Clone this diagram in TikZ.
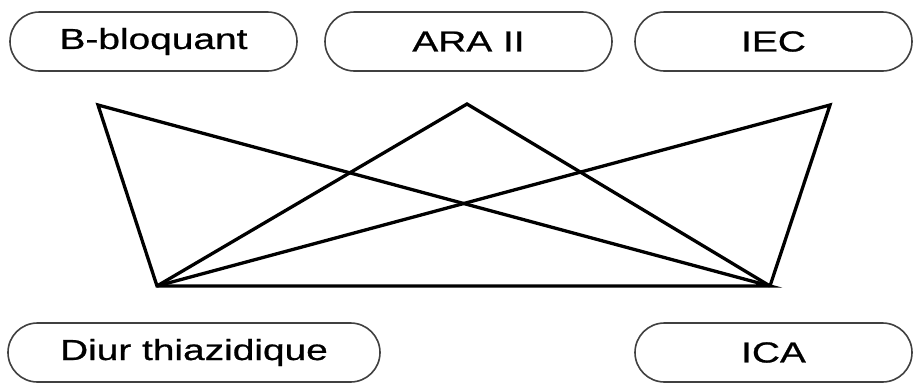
\documentclass[tikz,border=0pt]{standalone}
\usepackage{fontspec}
\usepackage{graphicx}
\setmainfont{Liberation Sans}
\newfontfamily\labelfont{Liberation Sans}[FakeBold=0.7]
\tikzset{
  pill/.style={draw=black!75, line width=1.6pt, rounded corners=29.5pt,
    minimum height=59pt, inner sep=0pt, fill=white,
    font=\labelfont\fontsize{29}{32}\selectfont, text=black},
  edge/.style={line width=3.3pt, black, line join=miter},
}
\newcommand{\wide}[1]{\scalebox{1.34}[1]{#1}}
\begin{document}
\begin{tikzpicture}[x=1pt,y=-1pt]
\useasboundingbox (0,0) rectangle (913,383);
\node[pill, minimum width=287pt] (bb) at (153.5,41.5) {\wide{B-bloquant}};
\node[pill, minimum width=287pt] (ara) at (468.5,41.5) {\wide{ARA II}};
\node[pill, minimum width=277pt] (iec) at (773.5,41.5) {\wide{IEC}};
\node[pill, minimum width=372pt] (diur) at (194,352.5) {\wide{Diur thiazidique}};
\node[pill, minimum width=277pt] (ica) at (773.5,352.5) {\wide{ICA}};
\coordinate (TL) at (98,105);
\coordinate (TM) at (467,104);
\coordinate (TR) at (830,105);
\coordinate (BL) at (157,286);
\coordinate (BR) at (770,286);
\draw[edge] (TL) -- (BL) -- (BR) -- cycle;
\draw[edge] (BL) -- (TM) -- (BR);
\draw[edge] (BL) -- (TR) -- (BR);
\end{tikzpicture}
\end{document}
